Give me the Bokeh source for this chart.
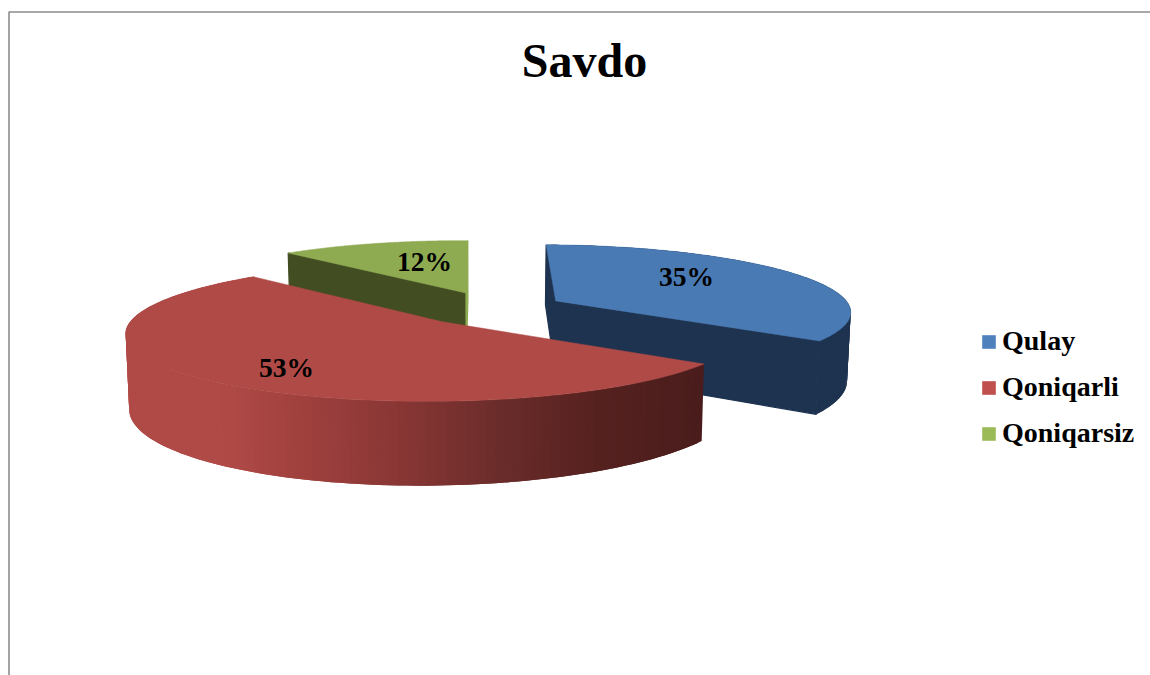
import numpy as np
from bokeh.plotting import figure
from bokeh.models import Range1d, Legend, LegendItem, ColumnDataSource
from bokeh.embed import file_html
from bokeh.resources import INLINE

title = "Savdo"
categories = ["Qulay", "Qoniqarli", "Qoniqarsiz"]
values = [35, 53, 12]
legend_colors = ["#4F81BD", "#C0504D", "#9BBB59"]
top_colors = ["#4A7AB3", "#AF4A46", "#8FAB52"]
face_colors = ["#1E3350", "#4A1D1C", "#424E22"]

# projection of the pie plane onto the page
A, B, C0, D, E_, F, G, H = 308.16, 69.93, 495.70, 6.83, -21.01, 308.32, 0.0222, 0.1419
explode = [0.2377, 0.2289, 0.2807]
radius = [1.025, 0.995, 0.985]
nudge = [(-2, -1), (-8, 1.5), (0, 0.5)]
start = -0.0058
DEPTH = 70.0
CONV = 0.01
CONV_X = 480.0
label_pos = [(686, 276), (286, 367), (424, 261)]
ramp_x = [220, 300, 400, 500, 600, 700]
ramp_rgb = [(176, 74, 71), (160, 65, 62), (136, 54, 52), (106, 44, 42), (85, 33, 31), (74, 29, 28)]


def proj(U, V):
    w = 1 + G * U + H * V
    x = (A * U + B * V + C0) / w
    y = (D * U + E_ * V + F) / w
    return x, y, w


def lower(x, y, w):
    return x + (CONV_X - x) * CONV, y + DEPTH / w


p = figure(width=1150, height=675, x_range=Range1d(0, 1150), y_range=Range1d(675, 0),
           output_backend="svg", toolbar_location=None, min_border=0,
           outline_line_color=None, background_fill_color="white")
p.axis.visible = False
p.grid.visible = False

# frame
p.line([8.5, 8.5, 1150], [675, 11.5, 11.5], line_color="#8C8C8C", line_width=1.6)

bounds = np.cumsum([0] + values) / sum(values) * 2 * np.pi + start
geo = []
for i in range(len(values)):
    s, t = bounds[i], bounds[i + 1]
    m = (s + t) / 2
    ou, ov = explode[i] * np.sin(m), explode[i] * np.cos(m)
    th = np.linspace(s, t, 121)
    rx, ry, rw = proj(ou + radius[i] * np.sin(th), ov + radius[i] * np.cos(th))
    ax, ay, aw = proj(ou, ov)
    rx, ry = rx + nudge[i][0], ry + nudge[i][1]
    ax, ay = ax + nudge[i][0], ay + nudge[i][1]
    bx, by = lower(rx, ry, rw)
    abx, aby = lower(ax, ay, aw)
    geo.append(dict(th=th, rx=rx, ry=ry, ax=ax, ay=ay, bx=bx, by=by, abx=abx, aby=aby))


def faces(g, color_start, color_end):
    p.patch([g["rx"][0], g["ax"], g["abx"], g["bx"][0]], [g["ry"][0], g["ay"], g["aby"], g["by"][0]],
            fill_color=color_start, line_color=color_start, line_width=1.2)
    p.patch([g["rx"][-1], g["ax"], g["abx"], g["bx"][-1]], [g["ry"][-1], g["ay"], g["aby"], g["by"][-1]],
            fill_color=color_end, line_color=color_end, line_width=1.2)


def top(g, color):
    p.patch(list(g["rx"]) + [g["ax"]], list(g["ry"]) + [g["ay"]],
            fill_color=color, line_color=color, line_width=0.5)


def wall(g, color_at):
    # each strip reaches over its neighbour so that no seams show
    xs, ys, cols = [], [], []
    n = len(g["th"])
    for j in range(n - 1):
        e = min(j + 2, n - 1)
        xs.append(list(g["rx"][j:e + 1]) + list(g["bx"][j:e + 1][::-1]))
        ys.append(list(g["ry"][j:e + 1]) + list(g["by"][j:e + 1][::-1]))
        cols.append(color_at((g["rx"][j] + g["rx"][j + 1]) / 2))
    p.patches(xs, ys, fill_color=cols, line_color=None)


# blue slice
g = geo[0]
wall(g, lambda x: face_colors[0])
faces(g, face_colors[0], face_colors[0])
top(g, top_colors[0])

# green slice
g = geo[2]
faces(g, face_colors[2], top_colors[2])
top(g, top_colors[2])


# red slice: wall shaded from left to right
def red_ramp(x):
    c = [int(round(np.interp(x, ramp_x, [q[k] for q in ramp_rgb]))) for k in range(3)]
    return "#%02X%02X%02X" % tuple(c)


g = geo[1]
wall(g, red_ramp)
top(g, top_colors[1])

# labels
for v, (lx, ly) in zip(values, label_pos):
    p.text([lx], [ly], text=[f"{v}%"], text_align="center", text_baseline="middle",
           text_font={"value": "Liberation Serif"}, text_font_style="bold",
           text_font_size="27.5px", text_color="black")

p.text([584], [60], text=[title], text_align="center", text_baseline="middle",
       text_font={"value": "Liberation Serif"}, text_font_style="bold",
       text_font_size="48px", text_color="black")

# legend
items = []
for name, col in zip(categories, legend_colors):
    src = ColumnDataSource(dict(left=[np.nan], right=[np.nan], top=[np.nan], bottom=[np.nan]))
    r = p.quad(left="left", right="right", top="top", bottom="bottom", source=src,
               fill_color=col, line_color=None)
    items.append(LegendItem(label=name, renderers=[r]))
legend = Legend(items=items, location=(980, 226), orientation="vertical",
                background_fill_alpha=0, border_line_color=None, padding=0, margin=0,
                glyph_width=17, glyph_height=17, label_standoff=5, spacing=14,
                label_text_font="Liberation Serif", label_text_font_style="bold",
                label_text_font_size="28px", label_text_color="black")
p.add_layout(legend, "center")

open("out.html", "w").write(file_html(p, INLINE))
